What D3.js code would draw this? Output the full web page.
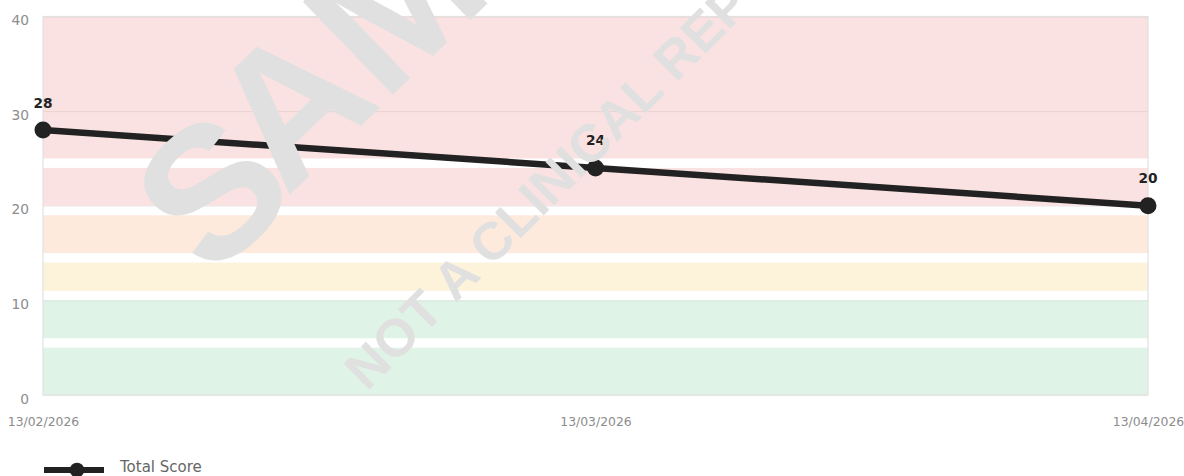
<!DOCTYPE html>
<html>
<head>
<meta charset="utf-8">
<script src="https://cdn.jsdelivr.net/npm/d3@7"></script>
<style>
  html, body { margin: 0; padding: 0; background: #fff; overflow: hidden; }
  svg { display: block; font-family: "DejaVu Sans", Verdana, sans-serif; }
</style>
</head>
<body>
<svg id="chart" width="1184" height="476"></svg>
<script>
// ---- data ----
const dates = ["13/02/2026", "13/03/2026", "13/04/2026"];
const totalScore = [28, 24, 20];
const yTicks = [0, 10, 20, 30, 40];
const bandLows  = [0, 6, 11, 15, 20, 25];
const bandHighs = [5, 10, 14, 19, 24, 40];
const bandColors = ["#dff3e6", "#dff3e6", "#fcf3da", "#feeadc", "#fae2e2", "#fae2e2"];
const seriesName = "Total Score";
const watermarkMain = "SAMPLE";
const watermarkSub = "NOT A CLINICAL REPORT";

const FONT = "DejaVu Sans, Verdana, sans-serif";
const WM_FONT = "Liberation Sans, Arial, Helvetica, sans-serif";
const svg = d3.select("#chart");
const pLeft = 43, pRight = 1148, pTop = 16.5, pBottom = 395;

const x = d3.scalePoint().domain(dates).range([pLeft, pRight]);
const y = d3.scaleLinear().domain([0, 40]).range([pBottom, pTop]);

// bands
svg.append("g").selectAll("rect").data(bandLows).join("rect")
  .attr("x", pLeft).attr("width", pRight - pLeft)
  .attr("y", (d, i) => y(bandHighs[i]))
  .attr("height", (d, i) => y(d) - y(bandHighs[i]))
  .attr("fill", (d, i) => bandColors[i]);

// grid lines
svg.append("g").selectAll("line").data(yTicks).join("line")
  .attr("x1", pLeft).attr("x2", pRight)
  .attr("y1", d => y(d) + 0.5).attr("y2", d => y(d) + 0.5)
  .attr("stroke", "rgba(0,0,0,0.07)").attr("stroke-width", 1);

// frame
svg.append("rect").attr("x", pLeft).attr("y", pTop).attr("width", pRight - pLeft).attr("height", pBottom - pTop)
  .attr("fill", "none").attr("stroke", "#e2e2e2").attr("stroke-width", 1.2);

// y axis labels
const yAxis = d3.axisLeft(y).tickValues(yTicks).tickSize(0).tickPadding(0);
const yg = svg.append("g").attr("transform", `translate(29,0)`).call(yAxis);
yg.select(".domain").remove();
yg.selectAll("text").attr("fill", "#8c8c8c").attr("font-size", 13.75)
  .attr("dy", 8).attr("font-family", FONT);

// x axis labels
const xAxis = d3.axisBottom(x).tickSize(0).tickPadding(0);
const xg = svg.append("g").attr("transform", `translate(0,${pBottom})`).call(xAxis);
xg.select(".domain").remove();
xg.selectAll("text").attr("fill", "#8c8c8c").attr("font-size", 12.4)
  .attr("y", 30.5).attr("dy", 0).attr("font-family", FONT);

// line
const line = d3.line().x((d, i) => x(dates[i])).y(d => y(d));
svg.append("path").datum(totalScore).attr("d", line)
  .attr("fill", "none").attr("stroke", "#222").attr("stroke-width", 6.5).attr("stroke-linejoin", "round");

svg.append("g").selectAll("circle").data(totalScore).join("circle")
  .attr("cx", (d, i) => x(dates[i])).attr("cy", d => y(d)).attr("r", 8.5).attr("fill", "#222");

svg.append("g").selectAll("text").data(totalScore).join("text")
  .attr("x", (d, i) => x(dates[i])).attr("y", d => y(d) - 22.5)
  .attr("text-anchor", "middle").attr("font-weight", "bold").attr("font-size", 13.7).attr("fill", "#222")
  .text(d => d);

// legend
const lg = svg.append("g");
lg.append("line").attr("x1", 44).attr("x2", 104).attr("y1", 470).attr("y2", 470)
  .attr("stroke", "#222").attr("stroke-width", 6);
lg.append("circle").attr("cx", 77).attr("cy", 470).attr("r", 7.3).attr("fill", "#222");
lg.append("text").attr("x", 120).attr("y", 472).attr("font-size", 15).attr("fill", "#666").text(seriesName);

// watermark (on top)
const wm = svg.append("g").attr("fill", "#e0e0e0").attr("font-weight", "bold").attr("font-family", WM_FONT);
wm.append("text").attr("transform", "translate(196,285) rotate(-44)")
  .attr("dx", "14 -14").attr("dy", "8 -8").attr("font-size", 188).text(watermarkMain);
wm.append("text").attr("transform", "translate(367,392) rotate(-45)")
  .attr("font-size", 53).text(watermarkSub);
</script>
</body>
</html>
